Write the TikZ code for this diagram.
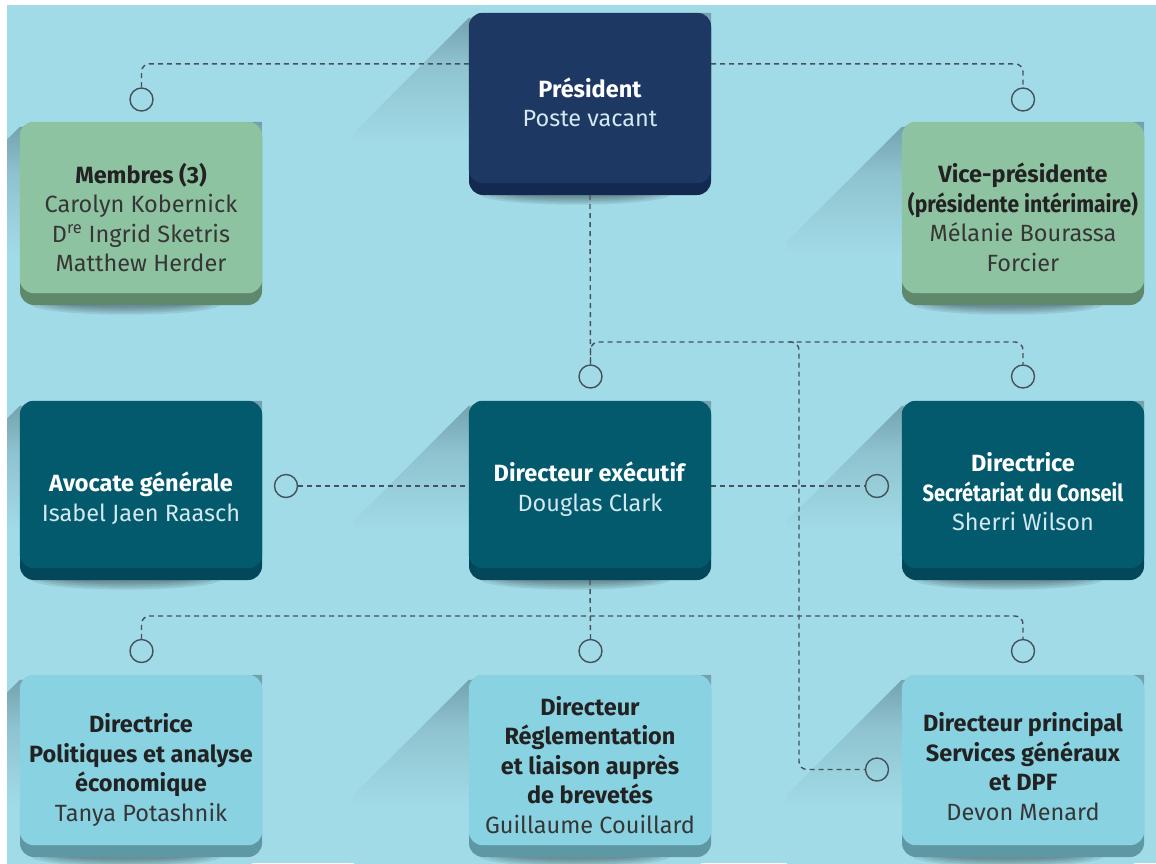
\documentclass[tikz,border=0pt]{standalone}
\usepackage{fontspec}
\usepackage{graphicx}
\setmainfont{Fira Sans}
\pgfdeclarelayer{back}
\pgfdeclarelayer{shade}
\pgfsetlayers{back,shade,main}
\definecolor{bgc}{HTML}{A1DBE7}
\definecolor{navyF}{HTML}{1E3864}
\definecolor{navyL}{HTML}{13294F}
\definecolor{greenF}{HTML}{8EC3A2}
\definecolor{greenL}{HTML}{5E896D}
\definecolor{tealF}{HTML}{045A6D}
\definecolor{tealL}{HTML}{02475A}
\definecolor{skyF}{HTML}{89D2E2}
\definecolor{skyL}{HTML}{5F98A5}
\definecolor{shtop}{HTML}{72A0AC}
\colorlet{shmid}{bgc!60!shtop}
\definecolor{connc}{HTML}{45525A}
\definecolor{darktext}{HTML}{222222}
\definecolor{darkname}{HTML}{363636}
\definecolor{lightname}{HTML}{D3E8F1}
\pgfdeclareverticalshading{longshade}{100bp}{color(0bp)=(bgc); color(53bp)=(bgc); color(66bp)=(shmid); color(75bp)=(shtop); color(100bp)=(shtop)}
\tikzset{
  cardbox/.style={rectangle, rounded corners=14pt, minimum width=242pt, inner sep=0pt, draw=none},
  conn/.style={draw=connc, line width=1.4pt, dash pattern=on 5pt off 4pt, rounded corners=8pt},
  hub/.style={circle, draw=connc, line width=1.4pt, minimum size=23pt, inner sep=0pt},
  txt/.style={align=center, inner sep=0pt, font=\fontsize{23.5}{29.5}\selectfont},
  ontxt/.style={txt, text=darktext},
  offtxt/.style={txt, text=white},
}
\newcommand{\nmd}[1]{{\color{darkname}#1}}
\newcommand{\nml}[1]{{\color{lightname}#1}}
% #1 name, #2 left x, #3 top y, #4 height, #5 face colour, #6 lip colour
\newcommand{\orgcard}[6]{%
  \node[cardbox, fill=#6, minimum height=#4pt] (#1) at ({#2+121},{#3+#4/2}) {};
  \fill[#5, rounded corners=14pt] (#1.north west) rectangle ([yshift=12pt]#1.south east);
  \begin{pgfonlayer}{shade}
    \begin{scope}
      \clip (7,5) rectangle (1156,863);
      \shade[shading=longshade]
        ([yshift=-5pt]#1.north west) -- ++(-115,115) |- ([xshift=-115pt,yshift=-115pt]#1.south east)
        -- ([xshift=-4pt]#1.south east) -- (#1.north east) -- cycle;
      \foreach \k in {1,...,5}{
        \fill[black, fill opacity=0.08] ([xshift=-15pt,yshift=1pt]#1.south) ellipse [x radius={55+8*\k}, y radius={1.5+1.8*\k}];
      }
    \end{scope}
  \end{pgfonlayer}
}
\begin{document}
\begin{tikzpicture}[x=1pt,y=-1pt]
\useasboundingbox (0,0) rectangle (1156,863);
\begin{pgfonlayer}{back}
  \fill[white] (0,0) rectangle (1156,863);
  \fill[bgc] (7,5) rectangle (1156,863);
\end{pgfonlayer}

% cards
\orgcard{pres}{469}{13}{182}{navyF}{navyL}
\orgcard{memb}{20}{122}{183}{greenF}{greenL}
\orgcard{vice}{902}{122}{183}{greenF}{greenL}
\orgcard{avoc}{20}{401}{179}{tealF}{tealL}
\orgcard{dexec}{469}{401}{179}{tealF}{tealL}
\orgcard{dsec}{902}{401}{179}{tealF}{tealL}
\orgcard{dpol}{20}{675}{182}{skyF}{skyL}
\orgcard{dreg}{469}{675}{182}{skyF}{skyL}
\orgcard{dsg}{902}{675}{182}{skyF}{skyL}

% texts
\node[offtxt] (tpres) at (590,102.5) {\textbf{Président}\\\nml{Poste vacant}};
\node[ontxt] (tmemb) at (141,217.5) {\textbf{Membres (3)}\\\nmd{Carolyn Kobernick}\\\nmd{D\textsuperscript{re} Ingrid Sketris}\\\nmd{Matthew Herder}};
\node[ontxt] (tvice) at (1023,217.5) {\textbf{Vice-présidente}\\\scalebox{0.9}[1]{\textbf{(présidente intérimaire)}}\\\nmd{Mélanie Bourassa}\\\nmd{Forcier}};
\node[offtxt] (tavoc) at (141,498.5) {\textbf{Avocate générale}\\\nml{Isabel Jaen Raasch}};
\node[offtxt] (tdexec) at (590,489) {\textbf{Directeur exécutif}\\\nml{Douglas Clark}};
\node[offtxt] (tdsec) at (1023,492) {\textbf{Directrice}\\\scalebox{0.85}[1]{\textbf{Secrétariat du Conseil}}\\\nml{Sherri Wilson}};
\node[ontxt] (tdpol) at (141,770) {\textbf{Directrice}\\\textbf{Politiques et analyse}\\\textbf{économique}\\\nmd{Tanya Potashnik}};
\node[ontxt] (tdreg) at (590,765) {\textbf{Directeur}\\\textbf{Réglementation}\\\textbf{et liaison auprès}\\\textbf{de brevetés}\\\nmd{Guillaume Couillard}};
\node[ontxt] (tdsg) at (1023,766.5) {\textbf{Directeur principal}\\\textbf{Services généraux}\\\textbf{et DPF}\\\nmd{Devon Menard}};

% hubs
\node[hub] (c1) at (141.5,99.5) {};
\node[hub] (c2) at (1023,99.5) {};
\node[hub] (c3) at (590.5,376.5) {};
\node[hub] (c4) at (1023,376.5) {};
\node[hub] (c5) at (286,486) {};
\node[hub] (c6) at (877,486) {};
\node[hub] (c7) at (141.5,651) {};
\node[hub] (c8) at (590.5,651) {};
\node[hub] (c9) at (1023,651) {};
\node[hub] (c10) at (877,769.5) {};
\coordinate (jr) at (799,342);
\coordinate (jb) at (799,616);

% connectors
\draw[conn] ([yshift=-51pt]pres.north west) -| (c1.north);
\draw[conn] ([yshift=-51pt]pres.north east) -| (c2.north);
\draw[conn] (pres.south) -- (c3.north);
\draw[conn] (c3.north) |- (jr) -| (c4.north);
\draw[conn] ([xshift=-10pt]jr) -- (jr) |- (c10.west);
\draw[conn] (c5.east) -- (c5.east -| dexec.west);
\draw[conn] (c6.west -| dexec.east) -- (c6.west);
\draw[conn] (dexec.south) -- (c8.north);
\draw[conn] (c7.north) |- (jb) -| (c9.north);
\end{tikzpicture}
\end{document}
